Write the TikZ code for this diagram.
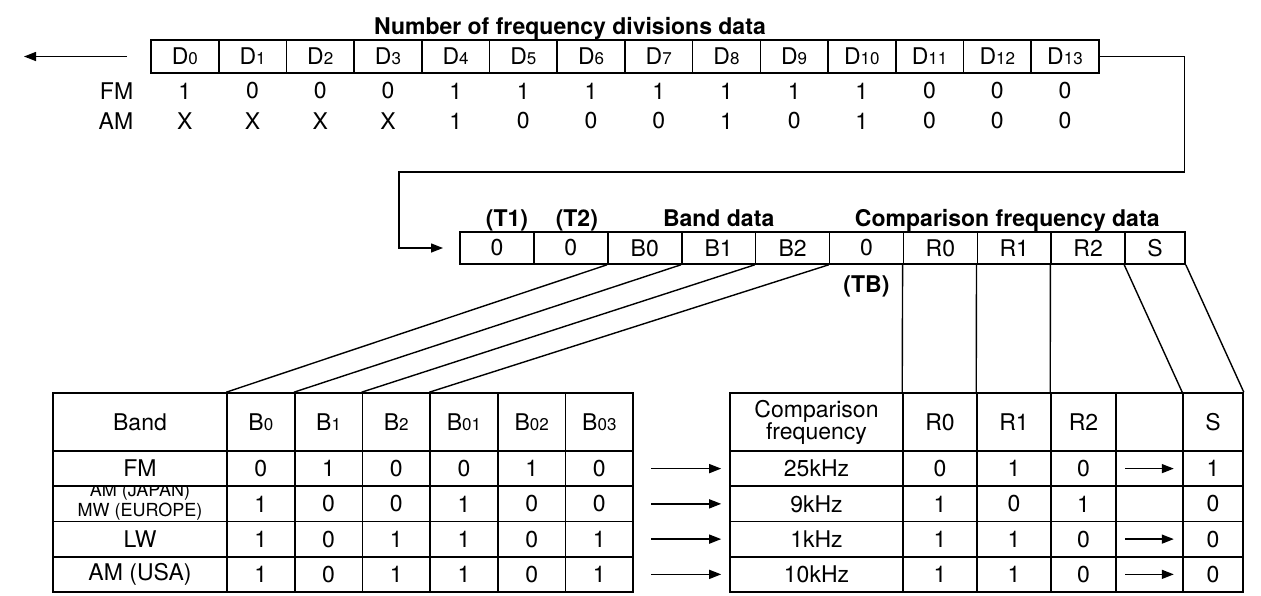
\documentclass[tikz,border=0pt]{standalone}
\usepackage{fontspec}
\setmainfont{TeX Gyre Heros}
\usetikzlibrary{arrows.meta,calc,positioning}
\newcommand{\idx}[1]{{\fontsize{8.5}{9}\selectfont#1}}
\begin{document}
\begin{tikzpicture}[x=0.5pt,y=-0.5pt,
  font=\fontsize{11.5}{13}\selectfont,
  line width=0.8pt,
  dcell/.style={draw,minimum width=33.85pt,minimum height=16.5pt,inner sep=0pt},
  rcell/.style={draw,minimum width=36.95pt,minimum height=16pt,inner sep=0pt},
  hcell/.style={draw,minimum width=33.85pt,minimum height=29pt,inner sep=0pt},
  tcell/.style={draw,minimum width=33.85pt,minimum height=17.6pt,inner sep=0pt},
  lbl/.style={font=\fontsize{11.5}{13}\selectfont\bfseries,inner sep=0pt},
  arr/.style={-{Triangle[length=6pt,width=4.5pt]}},
  link/.style={line width=0.7pt}]
\useasboundingbox (0,0) rectangle (1261,595);

\foreach \i in {0,...,13}
  \node[dcell] (d\i) at ({184.85+67.7*\i},56.5) {D\idx{\i}};
\node[lbl,anchor=base] (title) at (570,34) {Number of frequency divisions data};
\node[anchor=east,inner sep=0pt] (fm) at (134,91) {FM};
\node[anchor=east,inner sep=0pt] (am) at (134,121) {AM};
\foreach \v [count=\i from 0] in {1,0,0,0,1,1,1,1,1,1,1,0,0,0}
  \node (fm\i) at ($(d\i)+(0,34.5)$) {\v};
\foreach \v [count=\i from 0] in {X,X,X,X,1,0,0,0,1,0,1,0,0,0}
  \node (am\i) at ($(d\i)+(0,64.5)$) {\v};
\coordinate (din) at (127,56.5);
\coordinate (dout) at (24,56.5);
\draw[arr,link] (din) -- (dout);

\foreach \n/\t [count=\k from 0] in {t1/0,t2/0,b0/B0,b1/B1,b2/B2,tb/0,r0/R0,r1/R1,r2/R2}
  \node[rcell] (\n) at ({496.95+73.9*\k},248) {\t};
\node[rcell,minimum width=30pt] (s) at (1155,248) {S};
\coordinate (loopin) at (443,248);
\draw[arr,link] (d13.east) -- ++(85,0) |- (399,172) |- (loopin);

\node[lbl,anchor=base,yshift=2.5pt,xshift=5pt] (t1lbl) at (t1.north) {(T1)};
\node[lbl,anchor=base,yshift=2.5pt,xshift=3pt] (t2lbl) at (t2.north) {(T2)};
\node[lbl,anchor=base,yshift=2.5pt] (bandlbl) at (b1.north) {Band data};
\node[lbl,anchor=base,yshift=2.5pt] (complbl) at ($(tb.north west)!0.5!(s.north east)$) {Comparison frequency data};
\node[lbl,below=5pt of tb] (tblbl) {(TB)};

\node[hcell,minimum width=87pt] (lh0) at (140,422) {Band};
\foreach \t [count=\k] in {0,1,2,01,02,03}
  \node[hcell] (lh\k) at ({193.15+67.7*\k},422) {B\idx{\t}};
\node[align=center,font=\fontsize{9}{10}\selectfont,yshift=0.8pt] (lbtext) at (140,503.85) {AM (JAPAN)\\MW (EUROPE)};
\node[tcell,minimum width=87pt,fill=white] (la0) at (140,468.6) {FM};
\node[tcell,minimum width=87pt] (lb0) at (140,503.85) {};
\node[tcell,minimum width=87pt] (lc0) at (140,539.1) {LW};
\node[tcell,minimum width=87pt] (ld0) at (140,574.35) {AM (USA)};
\foreach \y/\n/\va/\vb/\vc/\vd/\ve/\vf in {468.6/a/0/1/0/0/1/0,503.85/b/1/0/0/1/0/0,539.1/c/1/0/1/1/0/1,574.35/d/1/0/1/1/0/1}
{
  \foreach \v [count=\k] in {\va,\vb,\vc,\vd,\ve,\vf}
    \node[tcell] (l\n\k) at ({193.15+67.7*\k},\y) {\v};
}

\node[hcell,minimum width=86.5pt,align=center,font=\fontsize{11.5}{11}\selectfont] (ch0) at (816.5,422) {Comparison\\frequency};
\foreach \x/\w/\t [count=\k] in {940/37pt/R0,1014/37pt/R1,1083.5/32.5pt/R2,1149.5/33.5pt/{},1213/30pt/S}
  \node[hcell,minimum width=\w] (ch\k) at (\x,422) {\t};
\foreach \y/\n/\t/\va/\vb/\vc/\vs in {468.6/a/25kHz/0/1/0/1,503.85/b/9kHz/1/0/1/0,539.1/c/1kHz/1/1/0/0,574.35/d/10kHz/1/1/0/0}
{
  \node[tcell,minimum width=86.5pt] (c\n0) at (816.5,\y) {\t};
  \node[tcell,minimum width=37pt] (c\n1) at (940,\y) {\va};
  \node[tcell,minimum width=37pt] (c\n2) at (1014,\y) {\vb};
  \node[tcell,minimum width=32.5pt] (c\n3) at (1083.5,\y) {\vc};
  \node[tcell,minimum width=33.5pt] (c\n4) at (1149.5,\y) {};
  \node[tcell,minimum width=30pt] (c\n5) at (1213,\y) {\vs};
  \draw[arr,link,shorten <=8.5pt,shorten >=4pt] (l\n6.east) -- (c\n0.west);
}
\foreach \n in {a,c,d}
  \draw[arr,link,shorten <=5pt,shorten >=5pt] (c\n4.west) -- (c\n4.east);

\draw[link] (b0.south west) -- (lh1.north west);
\draw[link] (b1.south west) -- (lh2.north west);
\draw[link] (b2.south west) -- (lh3.north west);
\draw[link] (tb.south west) -- (lh4.north west);
\draw[link] (r0.south west) -- (ch1.north west);
\draw[link] (r1.south west) -- (ch2.north west);
\draw[link] (r2.south west) -- (ch3.north west);
\draw[link] (s.south west) -- (ch5.north west);
\draw[link] (s.south east) -- (ch5.north east);
\end{tikzpicture}
\end{document}
